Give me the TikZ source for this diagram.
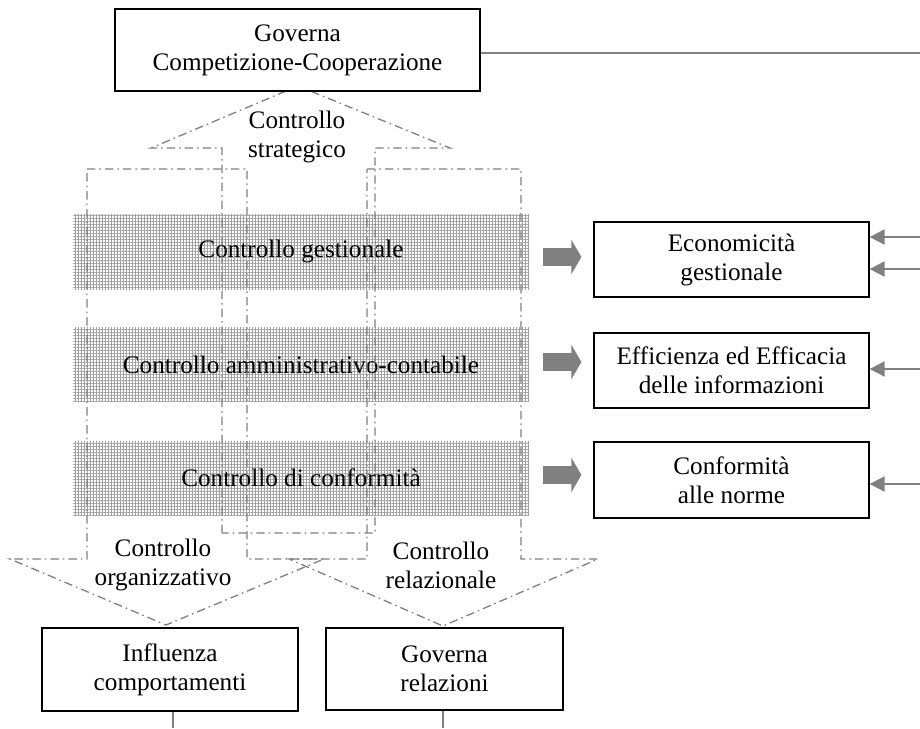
\documentclass[tikz,border=0pt]{standalone}
\usepackage{fontspec}
\setmainfont{Liberation Serif}
\usepackage{tikz}
\usetikzlibrary{positioning, calc, arrows.meta, patterns.meta}
\tikzset{box/.style={draw=black, line width=0.6pt, fill=white, align=center, inner sep=0pt}}
\tikzset{band/.style={pattern={Hatch[angle=0, distance=1.5pt, line width=0.3pt]}, pattern color=gray!75, inner sep=0pt, minimum width=228pt}}
\tikzset{ctrl/.style={draw=gray, line width=0.65pt, dash pattern=on 4.2pt off 2pt on 0.8pt off 2pt}}
\tikzset{link/.style={draw=gray, line width=0.9pt}}
\tikzset{push/.style={draw=gray, line width=9pt, -{Triangle[length=5pt, width=17pt]}}}
\tikzset{label/.style={align=center, inner sep=0pt}}

\begin{document}
\begin{tikzpicture}[x=0.5pt, y=-0.5pt, font=\fontsize{12.6}{14.5}\selectfont]

      \useasboundingbox (0,0) rectangle (920,728);

      % BANDS

      \node[band, minimum height=37.5pt] (bGes) at (301,251.5) {Controllo gestionale};
      \node[band, minimum height=37.5pt] (bAmm) at (301,364.5) {Controllo amministrativo-contabile};
      \node[band, minimum height=37pt] (bCon) at (301,478) {Controllo di conformità};

      % CONTROL ARROWS

      \draw[ctrl] (222,533) -- (222,148) -- (151,148) -- (298,86) -- (450,148) -- (375,148) -- (375,533) -- cycle;
      \draw[ctrl] (87,169) -- (247,169) -- (247,559) -- (324,559) -- (166,625) -- (10,559) -- (87,559) -- cycle;
      \draw[ctrl] (367,169) -- (521,169) -- (521,559) -- (598,559) -- (443,626) -- (289,559) -- (367,559) -- cycle;

      % BOXES

      \node[box, minimum width=182.5pt, minimum height=41pt] (gov) at (297.5,50) {Governa\\Competizione-Cooperazione};
      \node[box, minimum width=137.5pt, minimum height=37.5pt] (eco) at (731.5,259.5) {Economicità\\gestionale};
      \node[box, minimum width=137.5pt, minimum height=37.5pt] (eff) at (731.5,370.5) {Efficienza ed Efficacia\\delle informazioni};
      \node[box, minimum width=137.5pt, minimum height=38pt] (cfm) at (731.5,480) {Conformità\\alle norme};
      \node[box, minimum width=128pt, minimum height=41.5pt] (inf) at (170,669.5) {Influenza\\comportamenti};
      \node[box, minimum width=118.5pt, minimum height=41pt] (rel) at (444.5,669) {Governa\\relazioni};

      % LABELS

      \node[label] (lStr) at (297,137) {Controllo\\strategico};
      \node[label] (lOrg) at (163,565) {Controllo\\organizzativo};
      \node[label] (lRel) at (441,565) {Controllo\\relazionale};

      % ARCS

      \foreach \b/\r/\dy in {bGes/eco/-2.5, bAmm/eff/-8.5, bCon/cfm/-5}
        \draw[push] ($(\b.east |- \r.west)+(14,\dy)$) -- ($(\r.west)+(-12,\dy)$);

      \coordinate (govEnd) at (920,53);
      \coordinate (inEcoA) at (920,237);
      \coordinate (inEcoB) at (920,269);
      \coordinate (inEff) at (920,369);
      \coordinate (inCfm) at (920,484);
      \coordinate (infEnd) at (173,728);
      \coordinate (relEnd) at (443,728);

      \draw[link] (gov.east |- govEnd) -- (govEnd);
      \foreach \c/\r in {inEcoA/eco, inEcoB/eco, inEff/eff, inCfm/cfm}
        \draw[link, -{Triangle[length=7.5pt, width=7.5pt]}] (\c) -- (\r.east |- \c);
      \draw[link] (inf.south -| infEnd) -- (infEnd);
      \draw[link] (rel.south -| relEnd) -- (relEnd);

    \end{tikzpicture}
\end{document}
